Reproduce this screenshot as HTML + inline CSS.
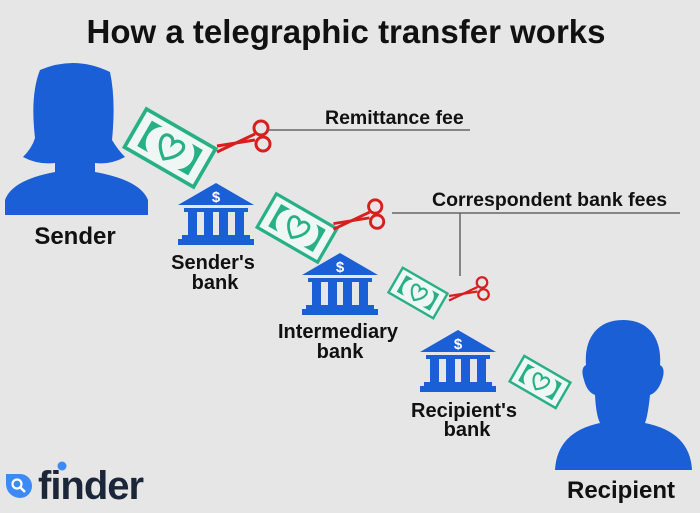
<!DOCTYPE html>
<html><head><meta charset="utf-8"><style>
html,body{margin:0;padding:0;background:#e6e6e6;}
svg{display:block;font-family:"Liberation Sans",Arial,sans-serif;font-weight:bold;}
</style></head><body>
<svg width="700" height="513" viewBox="0 0 700 513" xmlns="http://www.w3.org/2000/svg">
<defs>
<g id="bill">
<rect x="-38" y="-21" width="76" height="42" fill="#eef7f3" stroke="#27b085" stroke-width="3.5"/>
<path d="M-28,-14 h12 a16,16 0 0 0 0,28 h-12 z M28,-14 h-12 a16,16 0 0 1 0,28 h12 z" fill="#27b085"/>
<path d="M0,12 C-14,2 -14,-10 -6,-10 C-3,-10 -1,-8 0,-5 C1,-8 3,-10 6,-10 C14,-10 14,2 0,12 z" fill="none" stroke="#27b085" stroke-width="3"/>
</g>
<g id="bank" fill="#1a5fd6">
<polygon points="0,0 38,22 -38,22"/>
<rect x="-32" y="25" width="64" height="4"/>
<rect x="-28" y="29" width="9" height="23"/><rect x="-12" y="29" width="9" height="23"/>
<rect x="3" y="29" width="9" height="23"/><rect x="19" y="29" width="9" height="23"/>
<rect x="-34" y="52" width="68" height="4"/><rect x="-38" y="56" width="76" height="6"/>
<text x="0" y="19" font-size="15" fill="#fff" text-anchor="middle">$</text>
</g>
<g id="sc" fill="none" stroke="#d91e1e" stroke-width="3">
<line x1="-28" y1="14" x2="10" y2="-4"/><line x1="-28" y1="8" x2="10" y2="2"/>
<circle cx="16" cy="-10" r="7"/><circle cx="18" cy="6" r="7"/>
</g>
</defs>
<text x="346" y="43" font-size="33" text-anchor="middle" fill="#111">How a telegraphic transfer works</text>
<path fill="#1a5fd6" d="M40,70 Q75,55 110,72 Q116,100 112,140 Q118,150 125,157 Q110,165 95,163 L95,172 Q140,180 148,200 L148,215 L5,215 L5,200 Q12,180 55,172 L55,163 Q38,165 23,157 Q32,148 35,138 Q30,95 40,70 z"/>
<text x="75" y="244" font-size="24" text-anchor="middle" fill="#111">Sender</text>
<path fill="#1a5fd6" d="M623,320 C650,320 662,340 660,365 Q666,368 662,380 Q658,392 650,395 Q648,415 645,423 Q690,432 692,470 L555,470 Q557,432 600,423 Q596,415 595,395 Q587,392 584,380 Q580,368 586,365 C584,340 596,320 623,320 z"/>
<text x="621" y="498" font-size="24" text-anchor="middle" fill="#111">Recipient</text>
<use href="#bill" transform="translate(170,148) rotate(30) scale(1.05)"/>
<use href="#bill" transform="translate(297,228) rotate(30) scale(0.92)"/>
<use href="#bill" transform="translate(418,293) rotate(30) scale(0.68)"/>
<use href="#bill" transform="translate(540,382) rotate(30) scale(0.7)"/>
<use href="#sc" transform="translate(245,138) scale(1)"/>
<use href="#sc" transform="translate(360,216) scale(0.95)"/>
<use href="#sc" transform="translate(470,290) scale(0.75)"/>
<g stroke="#666" stroke-width="1.5">
<line x1="268" y1="130" x2="470" y2="130"/>
<line x1="392" y1="213" x2="680" y2="213"/>
<line x1="460" y1="213" x2="460" y2="276"/>
</g>
<text x="325" y="124" font-size="19.5" fill="#111">Remittance fee</text>
<text x="432" y="206" font-size="19.5" fill="#111">Correspondent bank fees</text>
<use href="#bank" transform="translate(216,183)"/>
<use href="#bank" transform="translate(340,253)"/>
<use href="#bank" transform="translate(458,330)"/>
<g font-size="20" fill="#111" text-anchor="middle">
<text x="213" y="269">Sender's</text><text x="215" y="289">bank</text>
<text x="338" y="338">Intermediary</text><text x="340" y="358">bank</text>
<text x="464" y="417">Recipient's</text><text x="467" y="436">bank</text>
</g>
<path d="M6,474 h14 a12,12 0 0 1 12,12 v0 a12,12 0 0 1 -12,12 h0 a14,14 0 0 1 -14,-14 z" fill="#3b8af5"/>
<circle cx="17" cy="484" r="4.5" fill="none" stroke="#fff" stroke-width="2.2"/>
<line x1="20" y1="487" x2="25" y2="492" stroke="#fff" stroke-width="2.5"/>
<text x="38" y="499" font-size="40" fill="#1b2738" letter-spacing="-1">finder</text>
<circle cx="62" cy="466" r="4.5" fill="#3b8af5"/>
</svg>
</body></html>
